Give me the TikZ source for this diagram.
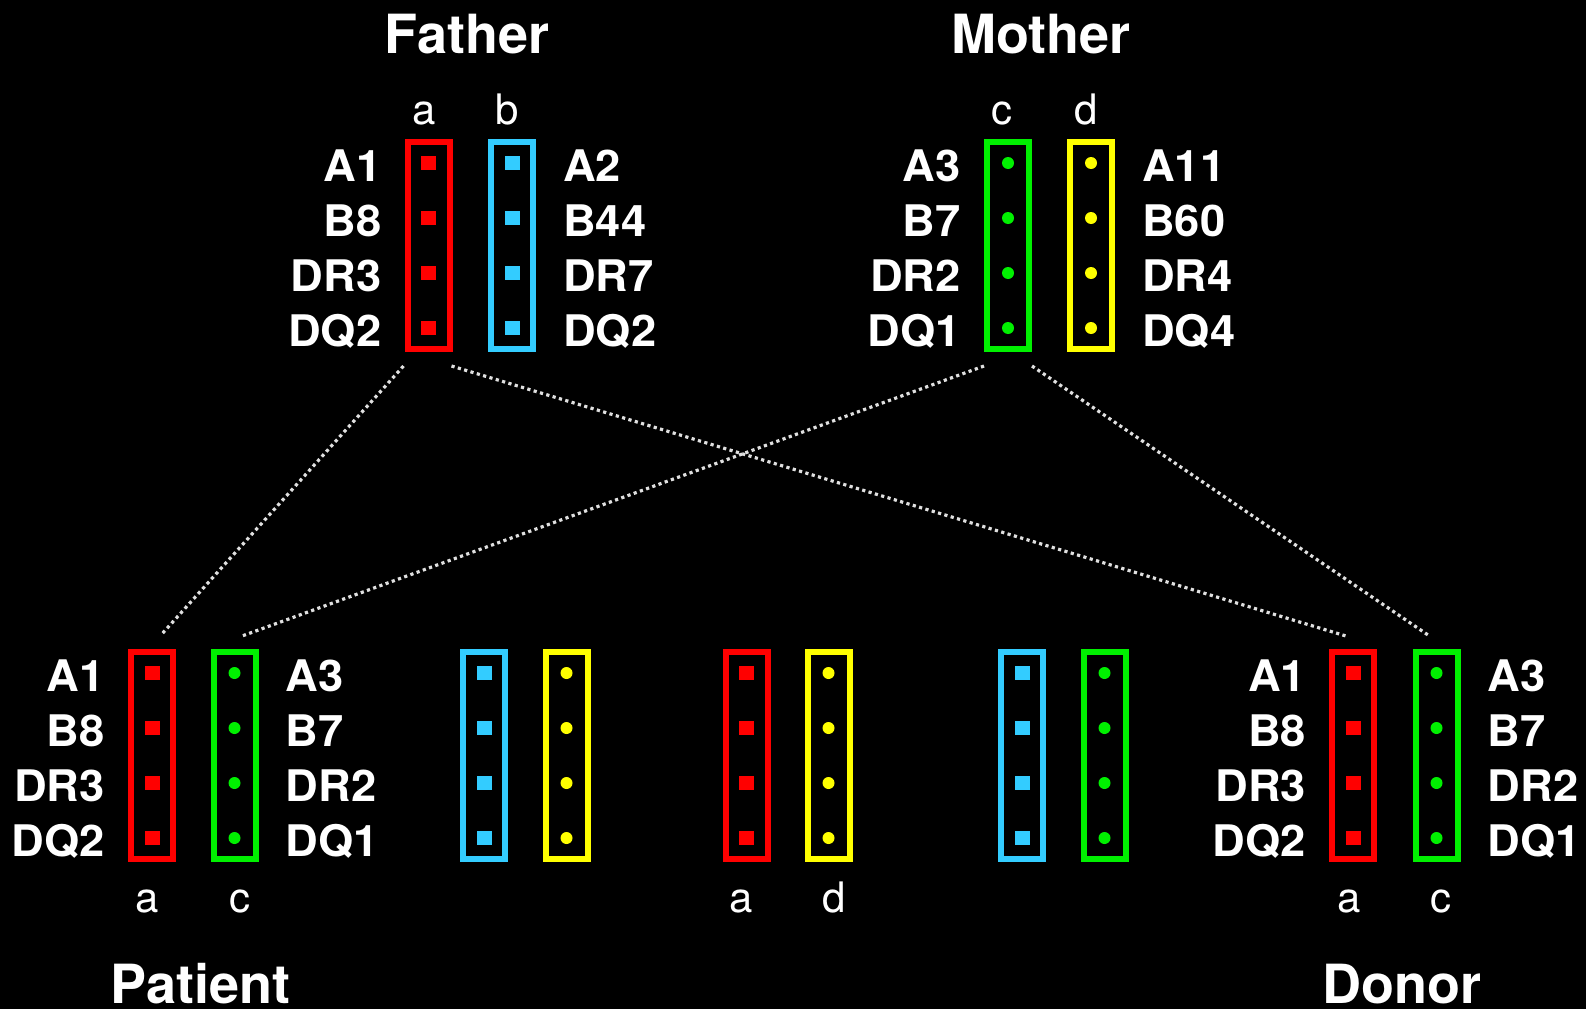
\documentclass[tikz,border=0pt]{standalone}
\usepackage{fontspec}
\setmainfont{TeX Gyre Heros}
\newfontfamily\labfont[FakeStretch=1.04]{TeX Gyre Heros}
\definecolor{hred}{HTML}{FF0000}
\definecolor{hblue}{HTML}{33CCFF}
\definecolor{hgreen}{HTML}{00F000}
\definecolor{hyellow}{HTML}{FFFF00}
\definecolor{linegray}{HTML}{E0E0E0}
\tikzset{
  chr/.style={draw=#1, line width=6pt, rectangle, minimum width=42pt, minimum height=207pt, inner sep=0pt},
  sqm/.style={fill=#1, rectangle, minimum width=15pt, minimum height=14pt, inner sep=0pt},
  dtm/.style={fill=#1, circle, minimum size=12pt, inner sep=0pt},
  lab/.style={text=white, font=\labfont\fontsize{43.5}{48}\selectfont\bfseries, inner sep=0pt},
  allele/.style={text=white, font=\fontsize{42}{48}\selectfont, inner sep=0pt, anchor=base},
  ttl/.style={text=white, font=\fontsize{54}{60}\selectfont\bfseries, inner sep=0pt, anchor=base},
  inh/.style={draw=linegray, line width=3.2pt, dash pattern=on 3.2pt off 3.4pt},
}
% name, x, y, colour, marker style
\newcommand\hlabox[5]{%
  \node[chr=#4] (#1) at (#2,#3) {};
  \foreach \k/\dy in {1/82.5,2/27.5,3/-27.5,4/-82.5}{%
    \node[#5=#4] (#1-\k) at ([yshift=\dy pt]#1.center) {};}%
}
% box name, four labels (left side)
\newcommand\leftlabs[5]{%
  \foreach \k/\t in {1/#2,2/#3,3/#4,4/#5}{%
    \node[lab, anchor=base east] (#1-l\k) at ([xshift=-47pt,yshift=-18pt]#1-\k.center) {\t};}%
}
\newcommand\rightlabs[5]{%
  \foreach \k/\t in {1/#2,2/#3,3/#4,4/#5}{%
    \node[lab, anchor=base west] (#1-r\k) at ([xshift=51pt,yshift=-18pt]#1-\k.center) {\t};}%
}
\begin{document}
\begin{tikzpicture}[x=1pt, y=-1pt]
\fill[black] (0,0) rectangle (1586,1009);
\useasboundingbox (0,0) rectangle (1586,1009);

% titles
\node[ttl] (tfather) at (467,53) {Father};
\node[ttl] (tmother) at (1041,53) {Mother};
\node[ttl] (tpatient) at (200.5,1003) {Patient};
\node[ttl] (tdonor) at (1401.5,1003) {Donor};

% parents
\hlabox{fa}{428.5}{245.5}{hred}{sqm}
\hlabox{fb}{512}{245.5}{hblue}{sqm}
\hlabox{mc}{1008}{245.5}{hgreen}{dtm}
\hlabox{md}{1091}{245.5}{hyellow}{dtm}
\leftlabs{fa}{A1}{B8}{DR3}{DQ2}
\rightlabs{fb}{A2}{B44}{DR7}{DQ2}
\leftlabs{mc}{A3}{B7}{DR2}{DQ1}
\rightlabs{md}{A11}{B60}{DR4}{DQ4}
\node[allele] (fa-h) at ([xshift=-4.5pt,yshift=121.5pt]fa.center) {a};
\node[allele] (fb-h) at ([xshift=-5pt,yshift=121.5pt]fb.center) {b};
\node[allele] (mc-h) at ([xshift=-6pt,yshift=121.5pt]mc.center) {c};
\node[allele] (md-h) at ([xshift=-5pt,yshift=121.5pt]md.center) {d};

% children
\hlabox{pa}{152}{755.5}{hred}{sqm}
\hlabox{pc}{234.5}{755.5}{hgreen}{dtm}
\hlabox{s1b}{484}{755.5}{hblue}{sqm}
\hlabox{s1d}{566.5}{755.5}{hyellow}{dtm}
\hlabox{s2a}{746.5}{755.5}{hred}{sqm}
\hlabox{s2d}{828.5}{755.5}{hyellow}{dtm}
\hlabox{s3b}{1022}{755.5}{hblue}{sqm}
\hlabox{s3c}{1104.5}{755.5}{hgreen}{dtm}
\hlabox{da}{1353}{755.5}{hred}{sqm}
\hlabox{dc}{1436.5}{755.5}{hgreen}{dtm}
\leftlabs{pa}{A1}{B8}{DR3}{DQ2}
\rightlabs{pc}{A3}{B7}{DR2}{DQ1}
\leftlabs{da}{A1}{B8}{DR3}{DQ2}
\rightlabs{dc}{A3}{B7}{DR2}{DQ1}
\node[allele] (pa-h) at ([xshift=-5pt,yshift=-156.5pt]pa.center) {a};
\node[allele] (pc-h) at ([xshift=5pt,yshift=-156.5pt]pc.center) {c};
\node[allele] (s2a-h) at ([xshift=-5.5pt,yshift=-156.5pt]s2a.center) {a};
\node[allele] (s2d-h) at ([xshift=6pt,yshift=-156.5pt]s2d.center) {d};
\node[allele] (da-h) at ([xshift=-4pt,yshift=-156.5pt]da.center) {a};
\node[allele] (dc-h) at ([xshift=4.5pt,yshift=-156.5pt]dc.center) {c};

% inheritance connectors
\coordinate (l1a) at ([xshift=-1pt,yshift=-14pt]fa.south west);
\coordinate (l1b) at ([xshift=9pt,yshift=14pt]pa.north);
\coordinate (l2a) at ([xshift=-1pt,yshift=-14pt]fa.south east);
\coordinate (l2b) at ([xshift=-7pt,yshift=13pt]da.north);
\coordinate (l3a) at ([yshift=-14pt]mc.south west);
\coordinate (l3b) at ([xshift=7.5pt,yshift=13pt]pc.north);
\coordinate (l4a) at ([yshift=-14pt]mc.south east);
\coordinate (l4b) at ([xshift=-8.5pt,yshift=14pt]dc.north);
\draw[inh] (l1a) -- (l1b);
\draw[inh] (l2a) -- (l2b);
\draw[inh] (l3a) -- (l3b);
\draw[inh] (l4a) -- (l4b);
\end{tikzpicture}
\end{document}
